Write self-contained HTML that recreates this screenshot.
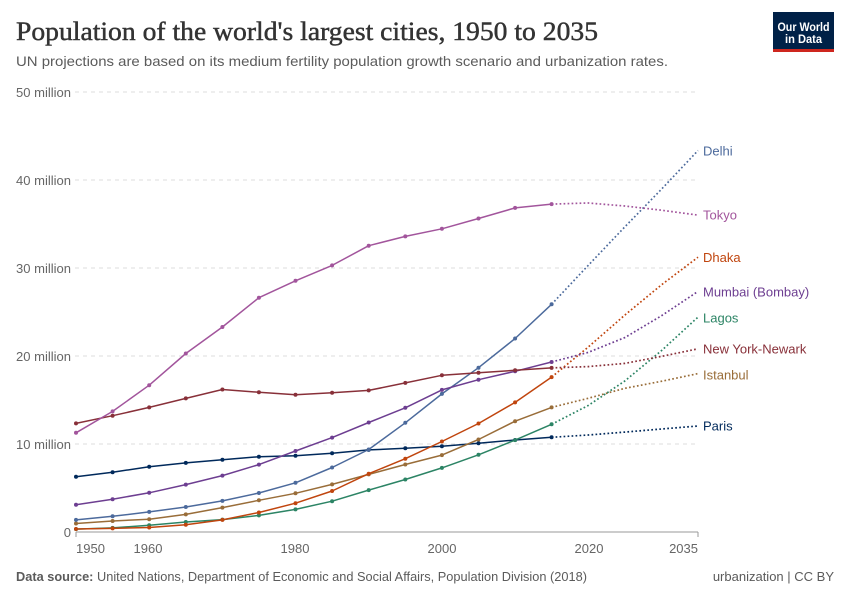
<!DOCTYPE html>
<html>
<head>
<meta charset="utf-8">
<style>
  html,body{margin:0;padding:0;background:#fff;}
  svg{display:block;}
  text{font-family:"Liberation Sans",sans-serif;}
</style>
</head>
<body>
<svg width="850" height="600" viewBox="0 0 850 600" xmlns="http://www.w3.org/2000/svg">
  <rect width="850" height="600" fill="#fff"/>
  <!-- Title -->
  <text x="16" y="40" style="font-family:'Liberation Serif',serif;" font-size="26" fill="#333" stroke="#333" stroke-width="0.45" textLength="582" lengthAdjust="spacingAndGlyphs">Population of the world's largest cities, 1950 to 2035</text>
  <text x="16" y="66" font-size="14" fill="#5b5b5b" textLength="652" lengthAdjust="spacingAndGlyphs">UN projections are based on its medium fertility population growth scenario and urbanization rates.</text>

  <!-- Logo -->
  <rect x="773" y="12" width="61" height="38" fill="#002147"/>
  <rect x="773" y="49" width="61" height="3" fill="#ce261e"/>
  <text x="803.5" y="31" font-size="12" font-weight="bold" fill="#fff" text-anchor="middle" textLength="52" lengthAdjust="spacingAndGlyphs">Our World</text>
  <text x="803.5" y="43" font-size="12" font-weight="bold" fill="#fff" text-anchor="middle" textLength="37" lengthAdjust="spacingAndGlyphs">in Data</text>

  <!-- Grid -->
  <g stroke="#dddddd" stroke-width="1" stroke-dasharray="4,4">
    <line x1="75" y1="92" x2="698" y2="92"/>
    <line x1="75" y1="180" x2="698" y2="180"/>
    <line x1="75" y1="268" x2="698" y2="268"/>
    <line x1="75" y1="356" x2="698" y2="356"/>
    <line x1="75" y1="444" x2="698" y2="444"/>
  </g>
  <g font-size="13" fill="#666">
    <text x="16" y="97" textLength="55" lengthAdjust="spacingAndGlyphs">50 million</text>
    <text x="16" y="185" textLength="55" lengthAdjust="spacingAndGlyphs">40 million</text>
    <text x="16" y="273" textLength="55" lengthAdjust="spacingAndGlyphs">30 million</text>
    <text x="16" y="361" textLength="55" lengthAdjust="spacingAndGlyphs">20 million</text>
    <text x="16" y="449" textLength="55" lengthAdjust="spacingAndGlyphs">10 million</text>
    <text x="71" y="537" text-anchor="end">0</text>
  </g>

  <!-- X axis -->
  <line x1="76" y1="532" x2="698" y2="532" stroke="#999" stroke-width="1"/>
  <line x1="76" y1="532" x2="76" y2="537" stroke="#999" stroke-width="1"/>
  <line x1="698" y1="532" x2="698" y2="537" stroke="#999" stroke-width="1"/>
  <g font-size="13" fill="#666">
    <text x="76" y="553">1950</text>
    <text x="148" y="553" text-anchor="middle">1960</text>
    <text x="295" y="553" text-anchor="middle">1980</text>
    <text x="442" y="553" text-anchor="middle">2000</text>
    <text x="589" y="553" text-anchor="middle">2020</text>
    <text x="698" y="553" text-anchor="end">2035</text>
  </g>

  <!-- Series -->
  <g fill="none" stroke-width="1.5" stroke-linejoin="round">
    <!-- Paris -->
    <polyline stroke="#00295b" points="76,476.7 112.6,472.2 149.2,466.8 185.8,462.9 222.4,459.8 258.9,456.7 295.5,455.7 332.1,453.2 368.7,449.9 405.3,448.3 441.9,446.3 478.5,443.2 515.1,440 551.6,437.3"/>
    <polyline stroke="#00295b" stroke-width="1.7" stroke-dasharray="1.7,2.3" points="551.6,437.3 588.2,435 624.8,432.1 661.4,429 698,426"/>
    <!-- Istanbul -->
    <polyline stroke="#996d39" points="76,523.5 112.6,521 149.2,519.2 185.8,514.4 222.4,507.6 258.9,500.3 295.5,493.3 332.1,484.4 368.7,474.4 405.3,464.5 441.9,455.1 478.5,439.5 515.1,421.2 551.6,407.4"/>
    <polyline stroke="#996d39" stroke-width="1.7" stroke-dasharray="1.7,2.3" points="551.6,407.4 588.2,398.3 624.8,388.3 661.4,381.3 698,373.6"/>
    <!-- Lagos -->
    <polyline stroke="#2c8465" points="76,529.1 112.6,527.9 149.2,525.3 185.8,522 222.4,519.6 258.9,515.4 295.5,509.4 332.1,501.2 368.7,490.1 405.3,479.5 441.9,467.9 478.5,454.8 515.1,440.1 551.6,424.3"/>
    <polyline stroke="#2c8465" stroke-width="1.7" stroke-dasharray="1.7,2.3" points="551.6,424.3 588.2,405.5 624.8,381 661.4,350.7 698,317.1"/>
    <!-- Dhaka -->
    <polyline stroke="#c0450e" points="76,529 112.6,528.4 149.2,527.5 185.8,524.7 222.4,519.9 258.9,512.5 295.5,503.2 332.1,491 368.7,473.7 405.3,458.7 441.9,441.5 478.5,423.5 515.1,402.4 551.6,377.1"/>
    <polyline stroke="#c0450e" stroke-width="1.7" stroke-dasharray="1.7,2.3" points="551.6,377.1 588.2,347.1 624.8,315.1 661.4,284.9 698,257.2"/>
    <!-- Delhi -->
    <polyline stroke="#4c6a9c" points="76,519.9 112.6,516.3 149.2,511.9 185.8,507 222.4,500.9 258.9,493 295.5,482.8 332.1,467.5 368.7,449.5 405.3,422.8 441.9,393.9 478.5,367.7 515.1,338.5 551.6,304.3"/>
    <polyline stroke="#4c6a9c" stroke-width="1.7" stroke-dasharray="1.7,2.3" points="551.6,304.3 588.2,265.4 624.8,226.9 661.4,189.3 698,150.5"/>
    <!-- Mumbai -->
    <polyline stroke="#6d3e91" points="76,504.8 112.6,499.2 149.2,492.8 185.8,484.6 222.4,475.6 258.9,464.6 295.5,451 332.1,437.6 368.7,422.5 405.3,407.8 441.9,389.9 478.5,379.7 515.1,371.3 551.6,362"/>
    <polyline stroke="#6d3e91" stroke-width="1.7" stroke-dasharray="1.7,2.3" points="551.6,362 588.2,352.4 624.8,337.6 661.4,315.8 698,291.4"/>
    <!-- New York -->
    <polyline stroke="#883039" points="76,423.4 112.6,415.7 149.2,407.4 185.8,398.4 222.4,389.5 258.9,392.3 295.5,394.7 332.1,392.7 368.7,390.4 405.3,382.9 441.9,375.3 478.5,372.8 515.1,370.3 551.6,367.9"/>
    <polyline stroke="#883039" stroke-width="1.7" stroke-dasharray="1.7,2.3" points="551.6,367.9 588.2,366.6 624.8,363.4 661.4,356.4 698,348.8"/>
    <!-- Tokyo -->
    <polyline stroke="#a2559c" points="76,432.8 112.6,411.4 149.2,385.2 185.8,353.5 222.4,327 258.9,297.7 295.5,280.8 332.1,265.4 368.7,245.7 405.3,236.4 441.9,228.8 478.5,218.5 515.1,207.9 551.6,204.1"/>
    <polyline stroke="#a2559c" stroke-width="1.7" stroke-dasharray="1.7,2.3" points="551.6,204.1 588.2,203 624.8,206 661.4,210.2 698,215.1"/>
  </g>

  <!-- Markers -->
  <g stroke="none">
    <g fill="#00295b">
      <circle cx="76" cy="476.7" r="2"/><circle cx="112.6" cy="472.2" r="2"/><circle cx="149.2" cy="466.8" r="2"/><circle cx="185.8" cy="462.9" r="2"/><circle cx="222.4" cy="459.8" r="2"/><circle cx="258.9" cy="456.7" r="2"/><circle cx="295.5" cy="455.7" r="2"/><circle cx="332.1" cy="453.2" r="2"/><circle cx="368.7" cy="449.9" r="2"/><circle cx="405.3" cy="448.3" r="2"/><circle cx="441.9" cy="446.3" r="2"/><circle cx="478.5" cy="443.2" r="2"/><circle cx="515.1" cy="440" r="2"/><circle cx="551.6" cy="437.3" r="2"/>
    </g>
    <g fill="#996d39">
      <circle cx="76" cy="523.5" r="2"/><circle cx="112.6" cy="521" r="2"/><circle cx="149.2" cy="519.2" r="2"/><circle cx="185.8" cy="514.4" r="2"/><circle cx="222.4" cy="507.6" r="2"/><circle cx="258.9" cy="500.3" r="2"/><circle cx="295.5" cy="493.3" r="2"/><circle cx="332.1" cy="484.4" r="2"/><circle cx="368.7" cy="474.4" r="2"/><circle cx="405.3" cy="464.5" r="2"/><circle cx="441.9" cy="455.1" r="2"/><circle cx="478.5" cy="439.5" r="2"/><circle cx="515.1" cy="421.2" r="2"/><circle cx="551.6" cy="407.4" r="2"/>
    </g>
    <g fill="#2c8465">
      <circle cx="76" cy="529.1" r="2"/><circle cx="112.6" cy="527.9" r="2"/><circle cx="149.2" cy="525.3" r="2"/><circle cx="185.8" cy="522" r="2"/><circle cx="222.4" cy="519.6" r="2"/><circle cx="258.9" cy="515.4" r="2"/><circle cx="295.5" cy="509.4" r="2"/><circle cx="332.1" cy="501.2" r="2"/><circle cx="368.7" cy="490.1" r="2"/><circle cx="405.3" cy="479.5" r="2"/><circle cx="441.9" cy="467.9" r="2"/><circle cx="478.5" cy="454.8" r="2"/><circle cx="515.1" cy="440.1" r="2"/><circle cx="551.6" cy="424.3" r="2"/>
    </g>
    <g fill="#c0450e">
      <circle cx="76" cy="529" r="2"/><circle cx="112.6" cy="528.4" r="2"/><circle cx="149.2" cy="527.5" r="2"/><circle cx="185.8" cy="524.7" r="2"/><circle cx="222.4" cy="519.9" r="2"/><circle cx="258.9" cy="512.5" r="2"/><circle cx="295.5" cy="503.2" r="2"/><circle cx="332.1" cy="491" r="2"/><circle cx="368.7" cy="473.7" r="2"/><circle cx="405.3" cy="458.7" r="2"/><circle cx="441.9" cy="441.5" r="2"/><circle cx="478.5" cy="423.5" r="2"/><circle cx="515.1" cy="402.4" r="2"/><circle cx="551.6" cy="377.1" r="2"/>
    </g>
    <g fill="#4c6a9c">
      <circle cx="76" cy="519.9" r="2"/><circle cx="112.6" cy="516.3" r="2"/><circle cx="149.2" cy="511.9" r="2"/><circle cx="185.8" cy="507" r="2"/><circle cx="222.4" cy="500.9" r="2"/><circle cx="258.9" cy="493" r="2"/><circle cx="295.5" cy="482.8" r="2"/><circle cx="332.1" cy="467.5" r="2"/><circle cx="368.7" cy="449.5" r="2"/><circle cx="405.3" cy="422.8" r="2"/><circle cx="441.9" cy="393.9" r="2"/><circle cx="478.5" cy="367.7" r="2"/><circle cx="515.1" cy="338.5" r="2"/><circle cx="551.6" cy="304.3" r="2"/>
    </g>
    <g fill="#6d3e91">
      <circle cx="76" cy="504.8" r="2"/><circle cx="112.6" cy="499.2" r="2"/><circle cx="149.2" cy="492.8" r="2"/><circle cx="185.8" cy="484.6" r="2"/><circle cx="222.4" cy="475.6" r="2"/><circle cx="258.9" cy="464.6" r="2"/><circle cx="295.5" cy="451" r="2"/><circle cx="332.1" cy="437.6" r="2"/><circle cx="368.7" cy="422.5" r="2"/><circle cx="405.3" cy="407.8" r="2"/><circle cx="441.9" cy="389.9" r="2"/><circle cx="478.5" cy="379.7" r="2"/><circle cx="515.1" cy="371.3" r="2"/><circle cx="551.6" cy="362" r="2"/>
    </g>
    <g fill="#883039">
      <circle cx="76" cy="423.4" r="2"/><circle cx="112.6" cy="415.7" r="2"/><circle cx="149.2" cy="407.4" r="2"/><circle cx="185.8" cy="398.4" r="2"/><circle cx="222.4" cy="389.5" r="2"/><circle cx="258.9" cy="392.3" r="2"/><circle cx="295.5" cy="394.7" r="2"/><circle cx="332.1" cy="392.7" r="2"/><circle cx="368.7" cy="390.4" r="2"/><circle cx="405.3" cy="382.9" r="2"/><circle cx="441.9" cy="375.3" r="2"/><circle cx="478.5" cy="372.8" r="2"/><circle cx="515.1" cy="370.3" r="2"/><circle cx="551.6" cy="367.9" r="2"/>
    </g>
    <g fill="#a2559c">
      <circle cx="76" cy="432.8" r="2"/><circle cx="112.6" cy="411.4" r="2"/><circle cx="149.2" cy="385.2" r="2"/><circle cx="185.8" cy="353.5" r="2"/><circle cx="222.4" cy="327" r="2"/><circle cx="258.9" cy="297.7" r="2"/><circle cx="295.5" cy="280.8" r="2"/><circle cx="332.1" cy="265.4" r="2"/><circle cx="368.7" cy="245.7" r="2"/><circle cx="405.3" cy="236.4" r="2"/><circle cx="441.9" cy="228.8" r="2"/><circle cx="478.5" cy="218.5" r="2"/><circle cx="515.1" cy="207.9" r="2"/><circle cx="551.6" cy="204.1" r="2"/>
    </g>
  </g>

  <!-- Series labels -->
  <g font-size="13">
    <text x="703" y="155.5" fill="#4c6a9c">Delhi</text>
    <text x="703" y="219.5" fill="#a2559c">Tokyo</text>
    <text x="703" y="262" fill="#c0450e">Dhaka</text>
    <text x="703" y="296.5" fill="#6d3e91">Mumbai (Bombay)</text>
    <text x="703" y="322.5" fill="#2c8465">Lagos</text>
    <text x="703" y="353.5" fill="#883039">New York-Newark</text>
    <text x="703" y="379.5" fill="#996d39">Istanbul</text>
    <text x="703" y="430.5" fill="#00295b">Paris</text>
  </g>

  <!-- Footer -->
  <text x="16" y="581" font-size="13" fill="#5b5b5b" textLength="571" lengthAdjust="spacingAndGlyphs"><tspan font-weight="bold">Data source:</tspan> United Nations, Department of Economic and Social Affairs, Population Division (2018)</text>
  <text x="834" y="581" font-size="13" fill="#5b5b5b" text-anchor="end">urbanization | CC BY</text>
</svg>
</body>
</html>
